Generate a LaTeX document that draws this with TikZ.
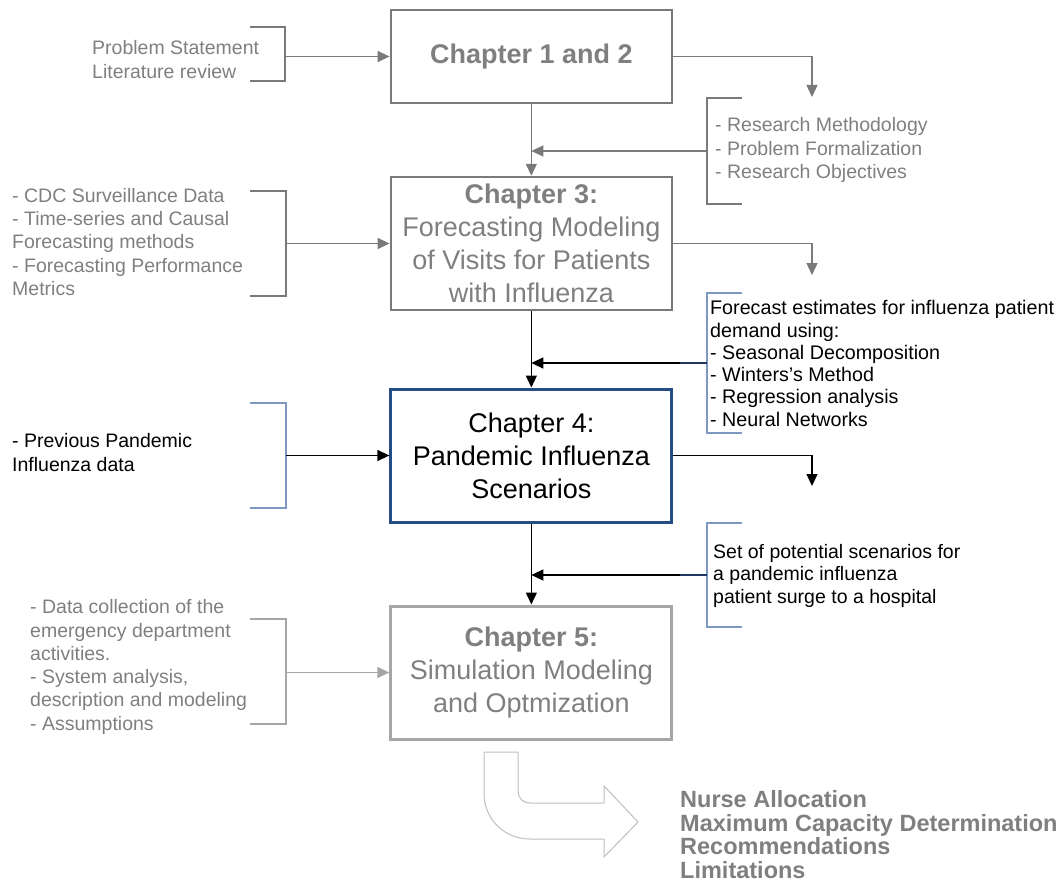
\documentclass[tikz,border=0pt]{standalone}
\usepackage{fontspec}
\setmainfont{Liberation Sans}
\usetikzlibrary{arrows.meta}

\definecolor{txtgray}{HTML}{7F7F7F}
\definecolor{linegray}{HTML}{7A7A7A}
\definecolor{palegray}{HTML}{A6A6A6}
\definecolor{arrowgray}{HTML}{BFBFBF}
\definecolor{navy}{HTML}{254D85}
\definecolor{brkblue}{HTML}{7D98C3}
\definecolor{stubnavy}{HTML}{1F3864}

\tikzset{
  chapbox/.style={draw, line width=2.5pt, minimum width=281pt, minimum height=133pt,
                  align=center, inner sep=0pt, font=\fontsize{27}{33}\selectfont},
  sidetxt/.style={anchor=west, align=left, inner sep=0pt, font=\fontsize{19.5}{23.3}\selectfont},
  conn/.style={line width=1.4pt, -{Triangle[length=12pt,width=11pt]}},
  brk/.style={line width=1.4pt},
}

\begin{document}
\begin{tikzpicture}[x=1pt,y=-1pt]
\useasboundingbox (0,0) rectangle (1063,891);

% chapter boxes
\node[chapbox, draw=linegray, text=txtgray, minimum height=93pt] (b1) at (531.35,56.5)
  {\textbf{Chapter 1 and 2}};
\node[chapbox, draw=linegray, text=txtgray] (b2) at (531.35,243.5)
  {\textbf{Chapter 3:}\\Forecasting Modeling\\of Visits for Patients\\with Influenza};
\node[chapbox, draw=navy, line width=3pt, text=black] (b3) at (531.35,455.5)
  {Chapter 4:\\Pandemic Influenza\\Scenarios};
\node[chapbox, draw=palegray, line width=3pt, text=txtgray] (b4) at (531.35,672.5)
  {\textbf{Chapter 5:}\\Simulation Modeling\\and Optmization};

% side notes
\node[sidetxt, text=txtgray] (n1) at (92,59.5) {Problem Statement\\Literature review};
\node[sidetxt, text=txtgray] (n2) at (715,150) {- Research Methodology\\- Problem Formalization\\- Research Objectives};
\node[sidetxt, text=txtgray] (n3) at (12,242) {- CDC Surveillance Data\\- Time-series and Causal\\Forecasting methods\\- Forecasting Performance\\Metrics};
\node[sidetxt, text=black, font=\fontsize{19.7}{22.3}\selectfont] (n4) at (710,363.5)
  {Forecast estimates for influenza patient\\demand using:\\- Seasonal Decomposition\\- Winters’s Method\\- Regression analysis\\- Neural Networks};
\node[sidetxt, text=black] (n5) at (12,452.5) {- Previous Pandemic\\Influenza data};
\node[sidetxt, text=black, font=\fontsize{19.5}{22.5}\selectfont] (n6) at (713,575.5)
  {Set of potential scenarios for\\a pandemic influenza\\patient surge to a hospital};
\node[sidetxt, text=txtgray] (n7) at (30,667) {- Data collection of the\\emergency department\\activities.\\- System analysis,\\description and modeling\\- Assumptions};
\node[sidetxt, text=txtgray, font=\fontsize{23.5}{23.7}\selectfont\bfseries] (n8) at (680,834.5)
  {Nurse Allocation\\Maximum Capacity Determination\\Recommendations\\Limitations};

% bracket midpoints and free ends
\coordinate (l1m) at (285,56.5);
\coordinate (l2m) at (286,243.5);
\coordinate (l3m) at (286,455.5);
\coordinate (l4m) at (286,672.5);
\coordinate (r1m) at (707,151);
\coordinate (r2m) at (707,363);
\coordinate (r3m) at (707,575);
\coordinate (d1) at (812,97);
\coordinate (d2) at (812,275);
\coordinate (d3) at (812,486);

% brackets
\draw[brk, linegray] (250,27) -- (285,27) -- (285,81) -- (250,81);
\draw[brk, linegray] (742,98) -- (707,98) -- (707,204) -- (742,204);
\draw[brk, linegray] (250,191) -- (286,191) -- (286,296) -- (250,296);
\draw[brk, brkblue] (742,293) -- (707,293) -- (707,433) -- (742,433);
\draw[brk, brkblue] (250,403) -- (286,403) -- (286,508) -- (250,508);
\draw[brk, brkblue] (742,523) -- (707,523) -- (707,627) -- (742,627);
\draw[brk, palegray] (250,619) -- (286,619) -- (286,724) -- (250,724);

% connectors into the boxes
\draw[conn, linegray] (l1m) -- (b1.west);
\draw[conn, linegray] (l2m) -- (b2.west);
\draw[conn, black] (l3m) -- (b3.west);
\draw[conn, palegray] (l4m) -- (b4.west);

% main flow
\draw[conn, linegray] (b1.south) -- (b2.north);
\draw[conn, black] (b2.south) -- (b3.north);
\draw[conn, black] (b3.south) -- (b4.north);

% feedback from the right-hand notes
\draw[conn, linegray] (r1m) -- (b1.south |- r1m);
\draw[conn, black] (r2m) -- (b2.south |- r2m);
\draw[conn, black] (r3m) -- (b3.south |- r3m);
\draw[brk, stubnavy] (r2m) -- ++(-27,0);
\draw[brk, stubnavy] (r3m) -- ++(-27,0);

% outputs of each chapter
\draw[conn, linegray] (b1.east) -- (b1.east -| d1) -- (d1);
\draw[conn, linegray] (b2.east) -- (b2.east -| d2) -- (d2);
\draw[conn, black] (b3.east) -- (b3.east -| d3) -- (d3);

% bent output arrow
\draw[arrowgray, line width=1pt, fill=white]
  (484,752) -- (518,752) -- (518,791)
  .. controls (518,798) and (523,803) .. (530,803)
  -- (604,803) -- (604,786) -- (638,822) -- (604,857) -- (604,839) -- (530,839)
  .. controls (504,839) and (484,819) .. (484,793) -- cycle;
\end{tikzpicture}
\end{document}
